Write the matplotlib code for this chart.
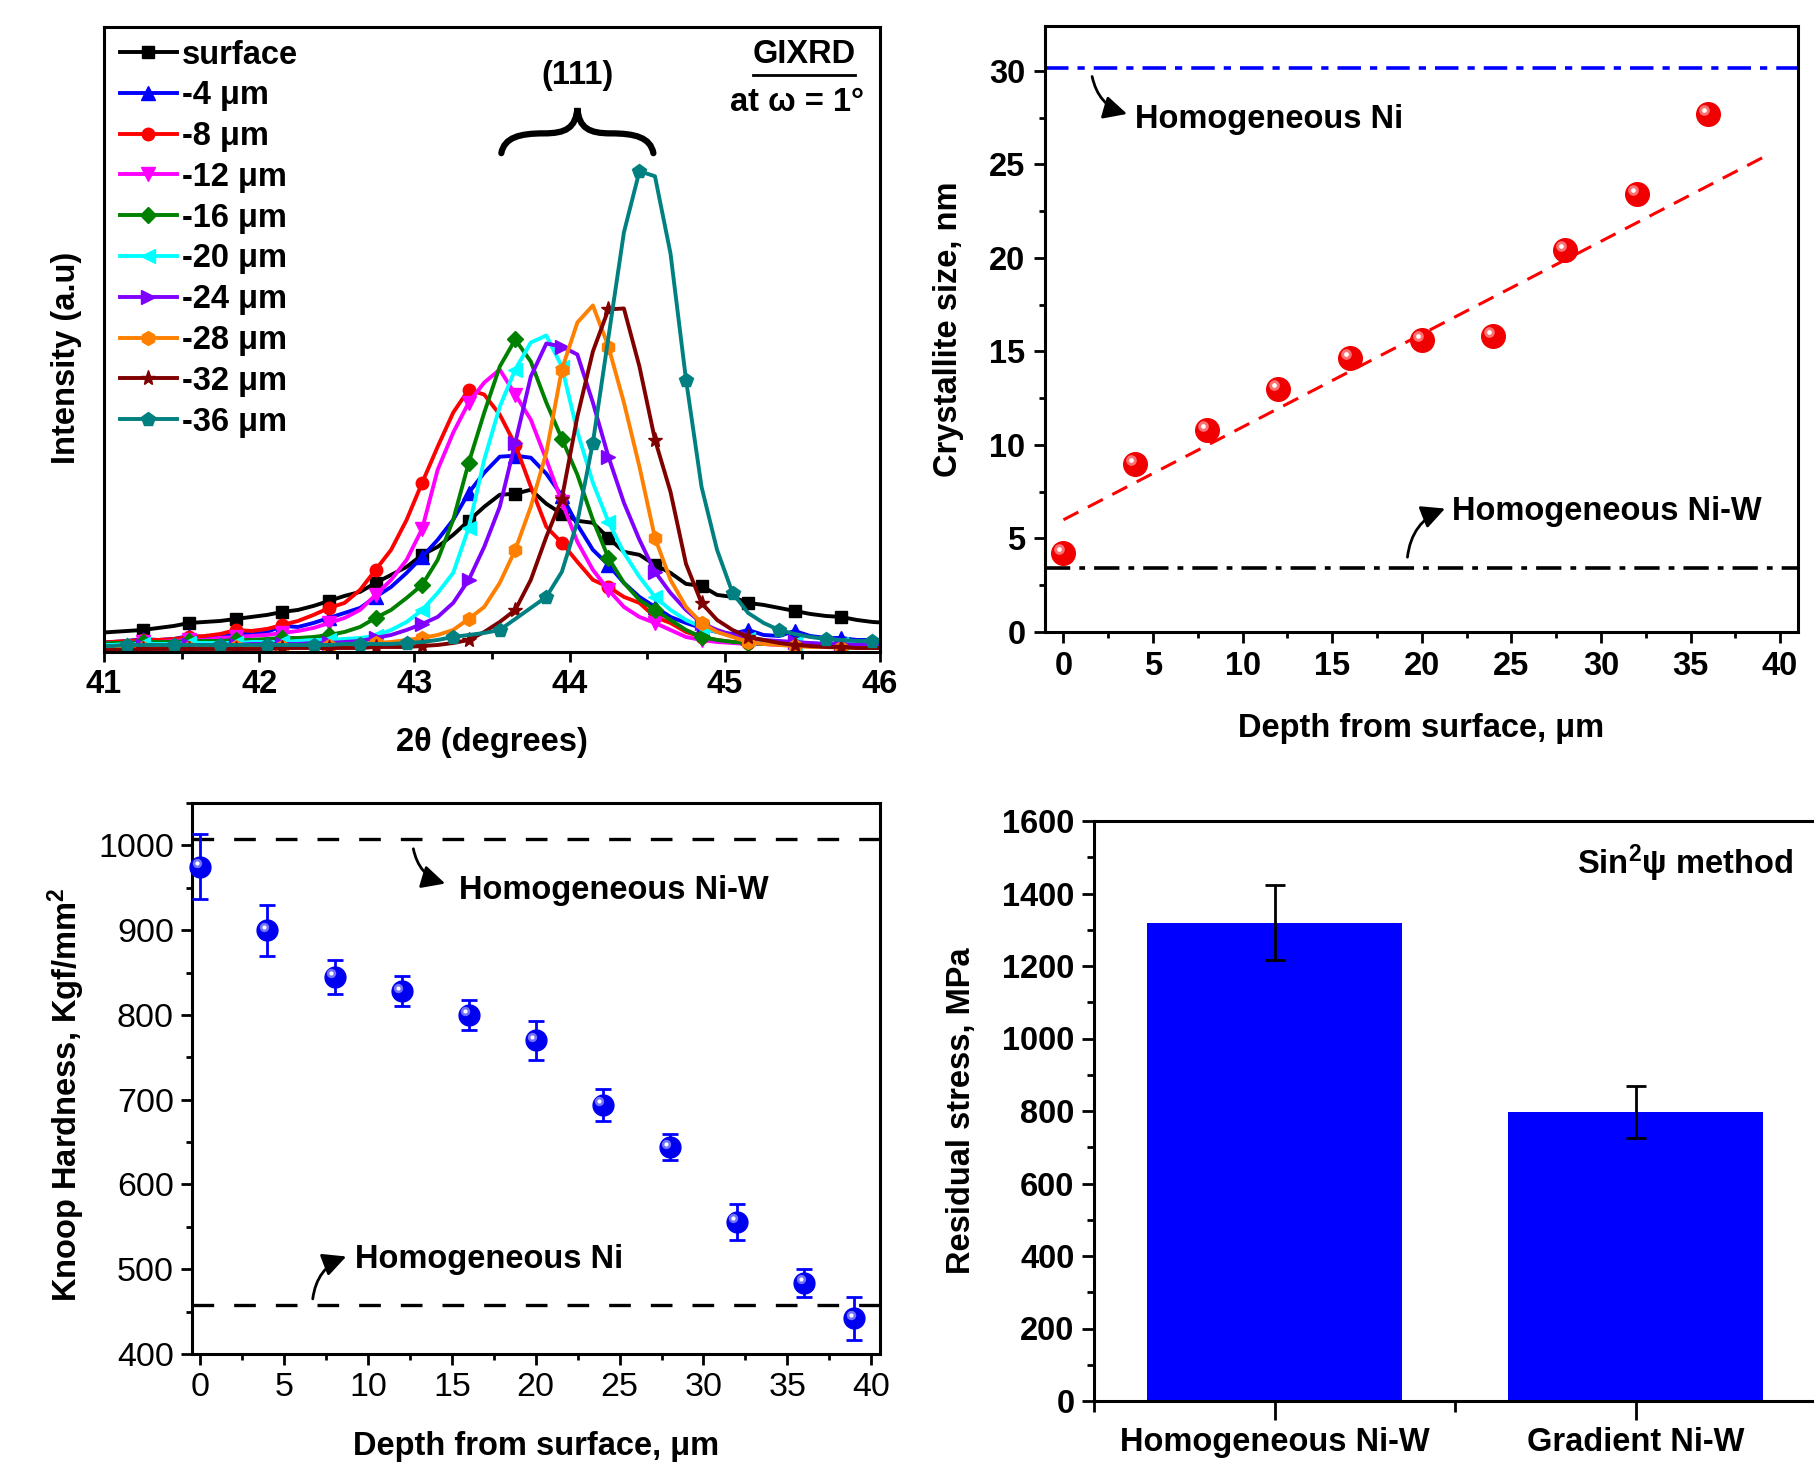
import numpy as np
import matplotlib
matplotlib.use('Agg')
import matplotlib.pyplot as plt
from matplotlib import font_manager
from matplotlib.path import Path
from matplotlib.patches import PathPatch
from matplotlib.ticker import MultipleLocator, FixedLocator
from matplotlib.transforms import offset_copy

# the original figure uses a tall, condensed bold sans face
installed = {f.name for f in font_manager.fontManager.ttflist}
if 'Liberation Sans Narrow' in installed:
    FAMILY, FS = 'Liberation Sans Narrow', 25.5
else:
    FAMILY, FS = 'Liberation Sans', 23.5

plt.rcParams.update({'font.family': FAMILY,
                     'font.weight': 'bold',
                     'axes.labelweight': 'bold',
                     'font.size': FS,
                     'axes.linewidth': 2.2,
                     'mathtext.fontset': 'custom',
                     'mathtext.rm': FAMILY + ':bold',
                     'mathtext.bf': FAMILY + ':bold',
                     'mathtext.it': FAMILY + ':bold:italic'})

#%% data
# GIXRD scans, 2theta grid (0.1 deg steps) and intensities (a.u.)
two_theta = np.round(np.arange(40.95, 46.06, 0.1), 2)

xrd_labels = ['surface', '-4 μm', '-8 μm', '-12 μm', '-16 μm',
              '-20 μm', '-24 μm', '-28 μm', '-32 μm', '-36 μm']
I_surface = [19, 20, 21, 22, 24, 26, 29, 30, 31, 33, 35, 37, 40, 42, 46, 51, 56, 60, 69, 77,
             85, 97, 105, 117, 131, 145, 157, 158, 162, 148, 138, 131, 129, 114, 100, 97, 87, 79, 68, 66,
             57, 55, 49, 47, 44, 41, 38, 36, 35, 32, 30, 29]
I_4 = [9, 10, 11, 13, 12, 13, 16, 15, 17, 18, 19, 20, 26, 25, 29, 34, 39, 44, 55, 65,
       79, 95, 112, 132, 159, 179, 195, 196, 194, 178, 156, 127, 102, 87, 69, 55, 45, 35, 29, 24,
       20, 18, 22, 17, 16, 21, 16, 14, 14, 12, 12, 11]
I_8 = [9, 10, 11, 12, 12, 13, 15, 16, 18, 22, 21, 23, 27, 31, 37, 44, 49, 62, 82, 102,
       132, 169, 205, 239, 262, 257, 237, 207, 165, 125, 109, 90, 72, 65, 55, 49, 35, 29, 20, 15,
       12, 10, 9, 9, 8, 8, 7, 7, 7, 6, 6, 6]
I_12 = [8, 9, 9, 10, 10, 11, 12, 12, 14, 15, 16, 17, 19, 21, 24, 29, 34, 42, 57, 72,
        92, 123, 182, 219, 249, 269, 282, 257, 232, 192, 150, 110, 82, 62, 45, 35, 29, 22, 15, 12,
        10, 9, 8, 8, 7, 7, 6, 6, 6, 5, 5, 5]
I_16 = [8, 9, 9, 10, 10, 10, 11, 11, 11, 12, 12, 13, 14, 14, 15, 17, 20, 25, 34, 42,
        54, 67, 92, 132, 189, 239, 285, 312, 290, 249, 213, 177, 132, 94, 69, 52, 42, 32, 22, 15,
        12, 10, 9, 8, 8, 7, 7, 6, 6, 6, 6, 6]
I_20 = [7, 7, 8, 8, 8, 8, 9, 9, 9, 9, 10, 10, 10, 11, 12, 12, 13, 14, 16, 22,
        30, 42, 59, 79, 124, 192, 245, 282, 309, 316, 285, 220, 169, 130, 99, 75, 55, 42, 32, 25,
        20, 16, 13, 11, 10, 9, 9, 8, 8, 8, 8, 8]
I_24 = [5, 5, 6, 6, 6, 6, 7, 7, 7, 7, 8, 8, 8, 8, 9, 9, 10, 11, 14, 17,
        22, 28, 35, 49, 72, 105, 145, 209, 275, 308, 305, 297, 249, 195, 149, 112, 80, 59, 42, 29,
        22, 17, 14, 12, 11, 10, 9, 8, 8, 7, 7, 7]
I_28 = [3, 3, 4, 4, 4, 4, 4, 5, 5, 5, 5, 5, 5, 6, 6, 6, 7, 8, 9, 10,
        12, 14, 17, 22, 33, 45, 69, 102, 145, 199, 282, 329, 346, 305, 249, 185, 114, 72, 45, 29,
        20, 15, 10, 8, 7, 6, 5, 5, 4, 4, 4, 4]
I_32 = [2, 2, 2, 3, 3, 3, 3, 3, 3, 3, 3, 3, 4, 4, 4, 4, 4, 4, 5, 5,
        5, 6, 7, 9, 12, 20, 30, 42, 72, 115, 153, 235, 300, 342, 343, 285, 212, 160, 88, 49,
        32, 22, 15, 12, 9, 7, 6, 5, 5, 4, 4, 4]
I_36 = [6, 6, 7, 7, 7, 7, 7, 7, 7, 7, 7, 7, 7, 7, 7, 7, 8, 8, 8, 8,
        9, 10, 12, 15, 17, 19, 22, 33, 44, 55, 80, 130, 209, 314, 419, 480, 475, 398, 272, 165,
        102, 59, 39, 29, 22, 18, 15, 13, 12, 11, 11, 10]
xrd_series = [I_surface, I_4, I_8, I_12, I_16, I_20, I_24, I_28, I_32, I_36]

# crystallite size vs depth
depth_cs = [0, 4, 8, 12, 16, 20, 24, 28, 32, 36]
cryst_size = [4.2, 9.0, 10.8, 13.0, 14.65, 15.6, 15.8, 20.4, 23.4, 27.7]
fit_depth = [0, 39.5]
fit_size = [6.0, 25.6]
cs_homog_ni = 30.15
cs_homog_niw = 3.4

# Knoop hardness vs depth
depth_hk = [0, 4, 8, 12, 16, 20, 24, 28, 32, 36, 39]
hardness = [975, 900, 845, 828, 800, 770, 694, 644, 556, 484, 442]
hardness_err = [38, 30, 20, 18, 18, 23, 19, 15, 21, 16.5, 25]
hk_homog_niw = 1008
hk_homog_ni = 458

# residual stress
stress_labels = ['Homogeneous Ni-W', 'Gradient Ni-W']
stress = [1320, 798]
stress_err = [104, 72]

#%% layout helpers
W, H = 1814, 1482
fig = plt.figure(figsize=(W / 100, H / 100), dpi=100)


def px_axes(l, t, r, b):
    return fig.add_axes([l / W, 1 - b / H, (r - l) / W, (b - t) / H])


def sphere(ax, x, y, color, light, size):
    ax.plot(x, y, 'o', ms=size, color=color, mec=color, zorder=5, clip_on=False)
    tr = offset_copy(ax.transData, fig=fig, x=-size * 0.17, y=size * 0.17, units='points')
    ax.plot(x, y, 'o', ms=size * 0.45, color=light, mec='none', alpha=0.8,
            transform=tr, zorder=6, clip_on=False)
    ax.plot(x, y, 'o', ms=size * 0.2, color='white', mec='none',
            transform=tr, zorder=7, clip_on=False)


arrow_kw = dict(arrowstyle='-|>,head_length=0.6,head_width=0.3', lw=2, color='black',
                shrinkA=0, shrinkB=0)

#%% (a) GIXRD
ax1 = px_axes(104, 27, 880, 652)
colors = ['black', 'blue', 'red', 'magenta', 'green', 'cyan',
          '#8000FF', '#FF8000', '#800000', '#008080']
markers = ['s', '^', 'o', 'v', 'D', '<', '>', 'h', '*', 'p']
msizes = [8.5, 9.5, 9, 9.5, 8, 9.5, 9.5, 10, 11, 10.5]
starts = [3, 3, 3, 3, 3, 3, 3, 3, 3, 2]
for I, lab, c, m, ms, s in zip(xrd_series, xrd_labels, colors, markers, msizes, starts):
    ax1.plot(two_theta, I, color=c, lw=2.8, marker=m, ms=ms, mec=c,
             markevery=(s, 3), label=lab)
ax1.set_xlim(41, 46)
ax1.set_ylim(0, 624)
ax1.set_yticks([])
ax1.xaxis.set_major_locator(MultipleLocator(1))
ax1.xaxis.set_minor_locator(MultipleLocator(0.5))
ax1.tick_params(axis='x', which='major', direction='out', length=7, width=2, pad=5, labelsize=FS)
ax1.tick_params(axis='x', which='minor', direction='out', length=5, width=2)
ax1.set_xlabel('2θ (degrees)', fontsize=FS, labelpad=20)
ax1.set_ylabel('Intensity (a.u)', fontsize=FS, labelpad=16)
ax1.yaxis.label.set_y(0.47)
ax1.legend(loc='upper left', bbox_to_anchor=(0.02, 0.98), frameon=False,
           fontsize=FS, handlelength=1.75, handletextpad=0.15, labelspacing=0.3,
           borderaxespad=0, borderpad=0, numpoints=1)

# brace over the (111) peaks
bx0, bx1, by0, bh = 43.56, 44.54, 498, 45
bw = bx1 - bx0
bxm = (bx0 + bx1) / 2
verts = [(bx0, by0),
         (bx0 + 0.02 * bw, by0 + 0.35 * bh), (bx0 + 0.12 * bw, by0 + 0.44 * bh), (bx0 + 0.28 * bw, by0 + 0.44 * bh),
         (bx0 + 0.42 * bw, by0 + 0.44 * bh), (bxm - 0.01 * bw, by0 + 0.55 * bh), (bxm, by0 + bh),
         (bxm + 0.01 * bw, by0 + 0.55 * bh), (bx1 - 0.42 * bw, by0 + 0.44 * bh), (bx1 - 0.28 * bw, by0 + 0.44 * bh),
         (bx1 - 0.12 * bw, by0 + 0.44 * bh), (bx1 - 0.02 * bw, by0 + 0.35 * bh), (bx1, by0)]
codes = [Path.MOVETO] + [Path.CURVE4] * 12
ax1.add_patch(PathPatch(Path(verts, codes), fill=False, lw=4.5, color='black', capstyle='round'))
ax1.text(44.05, 576, '(111)', ha='center', va='center', fontsize=FS)
ax1.text(45.51, 597, 'GIXRD', ha='center', va='center', fontsize=FS)
ax1.plot([45.18, 45.84], [576, 576], color='black', lw=2)
ax1.text(45.9, 549, 'at ω = 1°', ha='right', va='center', fontsize=FS)

#%% (b) crystallite size
ax2 = px_axes(1045, 26, 1798, 632)
ax2.axhline(cs_homog_ni, color='blue', lw=2.6, dashes=(6.5, 2.5, 2, 2.5))
ax2.axhline(cs_homog_niw, color='black', lw=2.6, dashes=(7, 2.5, 1.6, 2.5))
ax2.plot(fit_depth, fit_size, color='red', lw=2.2, dashes=(5.5, 3.5))
sphere(ax2, depth_cs, cryst_size, '#F00000', '#FF9090', 17)
ax2.set_xlim(-1.03, 41)
ax2.set_ylim(0, 32.4)
ax2.xaxis.set_major_locator(MultipleLocator(5))
ax2.xaxis.set_minor_locator(MultipleLocator(2.5))
ax2.yaxis.set_major_locator(MultipleLocator(5))
ax2.yaxis.set_minor_locator(MultipleLocator(2.5))
ax2.tick_params(which='major', direction='out', length=8, width=2, pad=6, labelsize=FS)
ax2.tick_params(which='minor', direction='out', length=4.5, width=2)
ax2.set_xlabel('Depth from surface, μm', fontsize=FS, labelpad=22)
ax2.set_ylabel('Crystallite size, nm', fontsize=FS, labelpad=18)
ax2.text(4.0, 27.4, 'Homogeneous Ni', ha='left', va='center', fontsize=FS)
ax2.annotate('', xy=(3.55, 27.7), xytext=(1.6, 29.7),
             arrowprops=dict(connectionstyle='arc3,rad=0.3', **arrow_kw))
ax2.text(21.7, 6.45, 'Homogeneous Ni-W', ha='left', va='center', fontsize=FS)
ax2.annotate('', xy=(21.3, 6.6), xytext=(19.2, 4.0),
             arrowprops=dict(connectionstyle='arc3,rad=-0.3', **arrow_kw))

#%% (c) Knoop hardness
ax3 = px_axes(192, 803, 879.5, 1354)
ax3.axhline(hk_homog_niw, color='black', lw=2.4, dashes=(6.5, 6))
ax3.axhline(hk_homog_ni, color='black', lw=2.4, dashes=(6.5, 6))
ax3.errorbar(depth_hk, hardness, yerr=hardness_err, fmt='none', ecolor='blue',
             elinewidth=2, capsize=6, capthick=2, zorder=4)
sphere(ax3, depth_hk, hardness, '#0000F0', '#9090FF', 15)
ax3.set_xlim(-0.5, 40.5)
ax3.set_ylim(400, 1050)
ax3.set_xticks([0, 5, 10, 15, 20, 25, 30, 35, 40])
ax3.set_xticklabels(['0', '5', '10', '15', '20', '25', '30', '35', '40'], fontweight='normal')
ax3.set_yticks([400, 500, 600, 700, 800, 900, 1000])
ax3.set_yticklabels(['400', '500', '600', '700', '800', '900', '1000'], fontweight='normal')
ax3.xaxis.set_minor_locator(MultipleLocator(2.5))
ax3.yaxis.set_minor_locator(MultipleLocator(50))
ax3.tick_params(which='major', direction='out', length=8, width=2, pad=5, labelsize=FS + 1)
ax3.tick_params(which='minor', direction='out', length=4.5, width=2)
ax3.set_xlabel('Depth from surface, μm', fontsize=FS, labelpad=20)
ax3.set_ylabel('Knoop Hardness, Kgf/mm$^{\\mathbf{2}}$', fontsize=FS, labelpad=8)
ax3.yaxis.label.set_y(0.47)
ax3.text(15.4, 947, 'Homogeneous Ni-W', ha='left', va='center', fontsize=FS)
ax3.annotate('', xy=(14.6, 955), xytext=(12.7, 996),
             arrowprops=dict(connectionstyle='arc3,rad=0.3', **arrow_kw))
ax3.text(9.25, 511, 'Homogeneous Ni', ha='left', va='center', fontsize=FS)
ax3.annotate('', xy=(8.7, 515), xytext=(6.7, 465),
             arrowprops=dict(connectionstyle='arc3,rad=-0.3', **arrow_kw))

#%% (d) residual stress
ax4 = px_axes(1094, 821, 1816, 1401)
pos = [1, 2]
ax4.bar(pos, stress, width=0.705, color='#0000FF', edgecolor='none')
ax4.errorbar(pos, stress, yerr=stress_err, fmt='none', ecolor='black',
             elinewidth=2, capsize=7, capthick=2)
ax4.set_xlim(0.5, 2.5)
ax4.set_ylim(0, 1600)
ax4.set_xticks(pos)
ax4.set_xticklabels(stress_labels)
ax4.xaxis.set_minor_locator(FixedLocator([0.5, 1.5, 2.5]))
ax4.yaxis.set_major_locator(MultipleLocator(200))
ax4.yaxis.set_minor_locator(MultipleLocator(100))
ax4.tick_params(axis='x', which='major', direction='out', length=14, width=2, pad=5, labelsize=FS)
ax4.tick_params(axis='x', which='minor', direction='out', length=8, width=2)
ax4.tick_params(axis='y', which='major', direction='out', length=9, width=2, pad=5, labelsize=FS)
ax4.tick_params(axis='y', which='minor', direction='out', length=5, width=2)
ax4.set_ylabel('Residual stress, MPa', fontsize=FS, labelpad=18)
ax4.text(2.435, 1483, 'Sin$^{\\mathbf{2}}$ψ method', ha='right', va='center', fontsize=FS)

fig.savefig('out.png', dpi=100)
